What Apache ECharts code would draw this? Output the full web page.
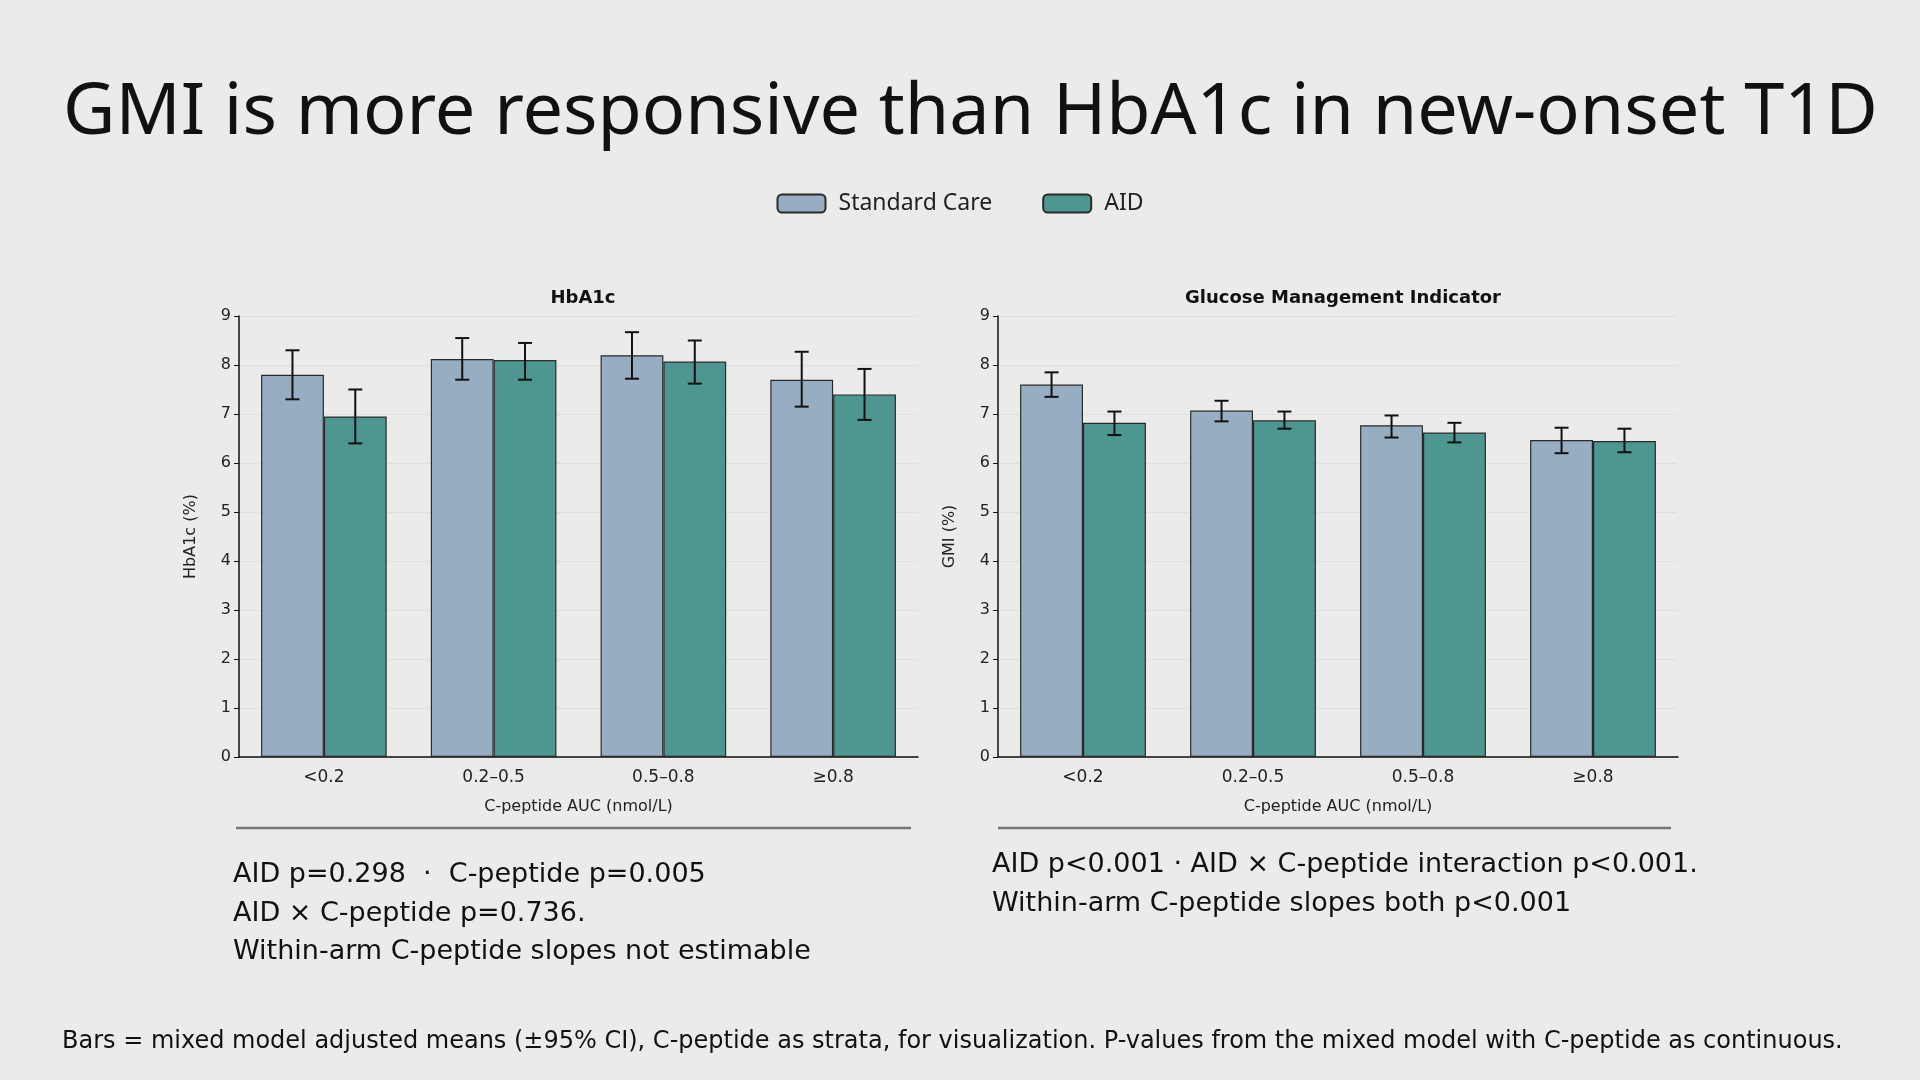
<!DOCTYPE html>
<html><head><meta charset="utf-8">
<script src="https://cdn.jsdelivr.net/npm/echarts@6/dist/echarts.min.js"></script>
<style>html,body{margin:0;background:#ebebea;}#c{width:1920px;height:1080px;}</style>
</head><body><div id="c"></div>
<script>
const categories = ['<0.2', '0.2–0.5', '0.5–0.8', '≥0.8'];
const hbaSC = [7.8, 8.12, 8.2, 7.7];
const hbaSCLo = [7.3, 7.7, 7.72, 7.15];
const hbaSCHi = [8.3, 8.55, 8.67, 8.27];
const hbaAID = [6.95, 8.1, 8.07, 7.4];
const hbaAIDLo = [6.4, 7.7, 7.62, 6.88];
const hbaAIDHi = [7.5, 8.45, 8.5, 7.92];
const gmiSC = [7.6, 7.07, 6.77, 6.47];
const gmiSCLo = [7.35, 6.85, 6.52, 6.2];
const gmiSCHi = [7.85, 7.27, 6.97, 6.72];
const gmiAID = [6.82, 6.87, 6.62, 6.45];
const gmiAIDLo = [6.57, 6.7, 6.42, 6.22];
const gmiAIDHi = [7.05, 7.05, 6.82, 6.7];

const SC = '#97adc1', AID = '#4e9690';
const BW = 0.37;
const font = 'DejaVu Sans';

function errSeries(idx, lo, hi, side) {
  return {
    type: 'custom', xAxisIndex: idx, yAxisIndex: idx, z: 10,
    data: lo.map((l, i) => [i, l, hi[i]]),
    renderItem(params, api) {
      const w = api.size([1, 0])[0] * BW;
      const x = api.coord([api.value(0), 0])[0] + side * w / 2;
      const y1 = api.coord([0, api.value(1)])[1];
      const y2 = api.coord([0, api.value(2)])[1];
      const st = { stroke: '#111', lineWidth: 2 };
      return { type: 'group', children: [
        { type: 'line', shape: { x1: x, y1: y1, x2: x, y2: y2 }, style: st },
        { type: 'line', shape: { x1: x - 7, y1: y1, x2: x + 7, y2: y1 }, style: st },
        { type: 'line', shape: { x1: x - 7, y1: y2, x2: x + 7, y2: y2 }, style: st }
      ] };
    }
  };
}
function bar(idx, name, data, color) {
  return { type: 'bar', name: name, xAxisIndex: idx, yAxisIndex: idx, data: data,
    barWidth: (BW * 100) + '%', barGap: '0%',
    itemStyle: { color: color, borderColor: '#2a2a2a', borderWidth: 1.2 } };
}
function xAx(idx) {
  return { type: 'category', gridIndex: idx, data: categories,
    name: 'C-peptide AUC (nmol/L)', nameLocation: 'middle', nameGap: 42,
    nameTextStyle: { fontFamily: font, fontSize: 16, color: '#222' },
    axisLine: { lineStyle: { color: '#111', width: 1.5 } },
    axisTick: { alignWithLabel: true, lineStyle: { color: '#111' } },
    axisLabel: { fontFamily: font, fontSize: 17, color: '#222', margin: 12 } };
}
function yAx(idx, name) {
  return { type: 'value', gridIndex: idx, min: 0, max: 9, interval: 1,
    name: name, nameLocation: 'middle', nameGap: 40,
    nameTextStyle: { fontFamily: font, fontSize: 16, color: '#222' },
    axisLine: { show: true, lineStyle: { color: '#111', width: 1.5 } },
    axisTick: { show: true, lineStyle: { color: '#111' } },
    axisLabel: { fontFamily: font, fontSize: 16, color: '#222' },
    splitLine: { lineStyle: { color: '#d4d4d4', type: 'dotted' } } };
}
const chart = echarts.init(document.getElementById('c'));
const txt = (x, y, s, size, weight) => ({ type: 'text', left: x, top: y,
  style: { text: s, fontFamily: font, fontSize: size, fontWeight: weight || 'normal', fill: '#111', lineHeight: size * 1.42 } });
chart.setOption({
  backgroundColor: '#ebebea',
  title: [
    { text: 'GMI is more responsive than HbA1c in new-onset T1D', left: 58, top: 72,
      textStyle: { fontFamily: 'Noto Sans', fontSize: 72, fontWeight: 'normal', color: '#111' } },
    { text: 'HbA1c', left: 578, top: 284, textAlign: 'center',
      textStyle: { fontFamily: font, fontSize: 18, fontWeight: 'bold', color: '#111' } },
    { text: 'Glucose Management Indicator', left: 1338, top: 284, textAlign: 'center',
      textStyle: { fontFamily: font, fontSize: 18, fontWeight: 'bold', color: '#111' } }
  ],
  legend: { top: 187, left: 'center', itemWidth: 48, itemHeight: 18, itemGap: 50,
    data: ['Standard Care', 'AID'],
    textStyle: { fontFamily: 'Noto Sans', fontSize: 23, color: '#222', padding: [0, 0, 0, 8] } },
  grid: [
    { left: 239, top: 316, width: 679, height: 441 },
    { left: 998, top: 316, width: 680, height: 441 }
  ],
  xAxis: [xAx(0), xAx(1)],
  yAxis: [yAx(0, 'HbA1c (%)'), yAx(1, 'GMI (%)')],
  series: [
    bar(0, 'Standard Care', hbaSC, SC), bar(0, 'AID', hbaAID, AID),
    bar(1, 'Standard Care', gmiSC, SC), bar(1, 'AID', gmiAID, AID),
    errSeries(0, hbaSCLo, hbaSCHi, -1), errSeries(0, hbaAIDLo, hbaAIDHi, 1),
    errSeries(1, gmiSCLo, gmiSCHi, -1), errSeries(1, gmiAIDLo, gmiAIDHi, 1)
  ],
  graphic: [
    { type: 'line', shape: { x1: 236, y1: 828, x2: 911, y2: 828 }, style: { stroke: '#777', lineWidth: 2.5 } },
    { type: 'line', shape: { x1: 998, y1: 828, x2: 1671, y2: 828 }, style: { stroke: '#777', lineWidth: 2.5 } },
    txt(233, 856, 'AID p=0.298  ·  C-peptide p=0.005\nAID × C-peptide p=0.736.\nWithin-arm C-peptide slopes not estimable', 27),
    txt(992, 846, 'AID p<0.001 · AID × C-peptide interaction p<0.001.\nWithin-arm C-peptide slopes both p<0.001', 27),
    txt(62, 1025, 'Bars = mixed model adjusted means (±95% CI), C-peptide as strata, for visualization. P-values from the mixed model with C-peptide as continuous.', 24)
  ]
});
</script></body></html>
